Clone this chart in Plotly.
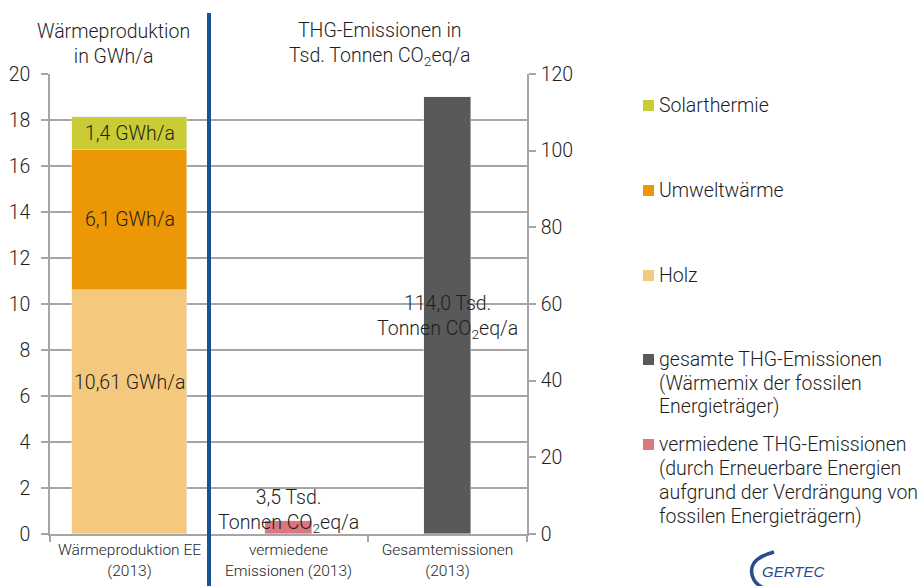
import plotly.graph_objects as go

# ---------------- data ----------------
categories = ["Wärmeproduktion EE<br>(2013)", "vermiedene<br>Emissionen (2013)", "Gesamtemissionen<br>(2013)"]
cat_pos = [0, 1, 2]
holz = [10.61]
umweltwaerme = [6.1]
solarthermie = [1.4]
vermiedene = [3.5]
gesamte = [114.0]
label_holz = "10,61 GWh/a"
label_umwelt = "6,1 GWh/a"
label_solar = "1,4 GWh/a"
label_verm = "3,5 Tsd.<br>Tonnen CO<sub>2</sub>eq/a"
label_ges = "114,0 Tsd.<br>Tonnen CO<sub>2</sub>eq/a"
left_ticks = list(range(0, 21, 2))
right_ticks = list(range(0, 121, 20))
legend_names = [
    ["Solarthermie"],
    ["Umweltwärme"],
    ["Holz"],
    ["gesamte THG-Emissionen", "(Wärmemix der fossilen", "Energieträger)"],
    ["vermiedene THG-Emissionen", "(durch Erneuerbare Energien", "aufgrund der Verdrängung von", "fossilen Energieträgern)"],
]

# ---------------- style ----------------
C_SOLAR = "#C9CC34"
C_UMWELT = "#EC9706"
C_HOLZ = "#F4C97E"
C_GES = "#595959"
C_VERM = "#DC7680"
C_BLUE = "#1A5390"
C_GRID = "#A6A6A6"
C_LOGO = "#2B4B8C"
TXT = "#1E1E1E"
FONT = "Roboto"
FS = 19.5

W, H = 922, 586
ML, MR, MT, MB = 50, 395, 74, 52
PH = H - MT - MB
PW = W - ML - MR


def py(ypx):
    return (H - MB - ypx) / PH


def px(xpx):
    return (xpx - ML) / PW


fig = go.Figure()
fig.add_bar(x=cat_pos[:1], y=holz, width=0.72, marker_color=C_HOLZ, name="Holz", yaxis="y")
fig.add_bar(x=cat_pos[:1], y=umweltwaerme, width=0.72, marker_color=C_UMWELT, name="Umweltwärme", yaxis="y")
fig.add_bar(x=cat_pos[:1], y=solarthermie, width=0.72, marker_color=C_SOLAR, name="Solarthermie", yaxis="y")
fig.add_bar(x=cat_pos[1:2], y=vermiedene, width=0.29, marker_color=C_VERM, name="vermiedene", yaxis="y2")
fig.add_bar(x=cat_pos[2:3], y=gesamte, width=0.29, marker_color=C_GES, name="gesamte", yaxis="y2")

fig.update_layout(
    width=W, height=H,
    margin=dict(l=ML, r=MR, t=MT, b=MB, pad=0, autoexpand=False),
    paper_bgcolor="white", plot_bgcolor="white",
    barmode="stack", bargap=0,
    showlegend=False,
    font=dict(family=FONT, color=TXT, size=FS, weight=300),
    xaxis=dict(range=[-0.5, 2.5], tickvals=cat_pos, ticktext=categories, automargin=False,
               showgrid=False, zeroline=False, showline=True, linecolor=C_GRID, linewidth=1.5,
               ticks="", tickfont=dict(size=15.5), ticklabelstandoff=1,
               minor=dict(tickmode="array", tickvals=[-0.5, 0.5, 1.5, 2.5], ticks="outside",
                          ticklen=6, tickcolor=C_GRID, tickwidth=1.5, showgrid=False)),
    yaxis=dict(range=[0, 20], tickvals=left_ticks, showgrid=True, gridcolor=C_GRID, gridwidth=1.5,
               zeroline=False, showline=True, linecolor=C_GRID, linewidth=1.5, automargin=False,
               ticks="outside", ticklen=7, tickcolor=C_GRID, tickwidth=1.5,
               tickfont=dict(size=FS), ticklabelstandoff=7),
    yaxis2=dict(range=[0, 120], tickvals=right_ticks, overlaying="y", side="right", automargin=False,
                showgrid=False, zeroline=False, showline=True, linecolor=C_GRID, linewidth=1.5,
                ticks="outside", ticklen=7, tickcolor=C_GRID, tickwidth=1.5,
                tickfont=dict(size=FS), ticklabelstandoff=1),
)

ann = []
# bar labels
ann.append(dict(x=0, y=6.57, xref="x", yref="y", text=label_holz, showarrow=False))
ann.append(dict(x=0, y=holz[0] + umweltwaerme[0] / 2, xref="x", yref="y", text=label_umwelt, showarrow=False))
ann.append(dict(x=0, y=holz[0] + umweltwaerme[0] + solarthermie[0] / 2, xref="x", yref="y", text=label_solar, showarrow=False))
ann.append(dict(x=1, y=6.0, xref="x", yref="y2", text=label_verm, showarrow=False))
ann.append(dict(x=2, y=56.6, xref="x", yref="y2", text=label_ges, showarrow=False))

# section titles
ann.append(dict(x=px(113), y=py(44), xref="paper", yref="paper", text="Wärmeproduktion<br>in GWh/a",
                showarrow=False, xanchor="center", yanchor="middle"))
ann.append(dict(x=px(380), y=py(44), xref="paper", yref="paper", text="THG-Emissionen in<br>Tsd. Tonnen CO<sub>2</sub>eq/a",
                showarrow=False, xanchor="center", yanchor="middle"))

shapes = []
# divider line
shapes.append(dict(type="line", xref="x", yref="paper", x0=0.5, x1=0.5, y0=py(590), y1=py(13),
                   line=dict(color=C_BLUE, width=4), layer="above"))

# manual legend
legend_colors = [C_SOLAR, C_UMWELT, C_HOLZ, C_GES, C_VERM]
legend_y = [105, 190, 275, 359, 444]
for col, lines, ypos in zip(legend_colors, legend_names, legend_y):
    shapes.append(dict(type="rect", xref="paper", yref="paper",
                       x0=px(643), x1=px(654), y0=py(ypos + 6), y1=py(ypos - 5),
                       fillcolor=col, line=dict(width=0)))
    for i, line in enumerate(lines):
        ann.append(dict(x=px(657), y=py(ypos + 24 * i), xref="paper", yref="paper", text=line,
                        xanchor="left", yanchor="middle", align="left", showarrow=False))

# logo
shapes.append(dict(type="path", xref="paper", yref="paper",
                   path=f"M {px(774)} {py(552)} Q {px(744)} {py(560)} {px(754)} {py(580)} Q {px(758)} {py(586)} {px(764)} {py(588)}",
                   line=dict(color=C_LOGO, width=3.5)))
ann.append(dict(x=px(793), y=py(571), xref="paper", yref="paper", text="GERTEC",
                xanchor="center", yanchor="middle", showarrow=False,
                font=dict(family="Liberation Sans", size=15, color=C_LOGO, style="italic", weight=400)))

fig.update_layout(annotations=ann, shapes=shapes)
fig.write_html("out.html")
